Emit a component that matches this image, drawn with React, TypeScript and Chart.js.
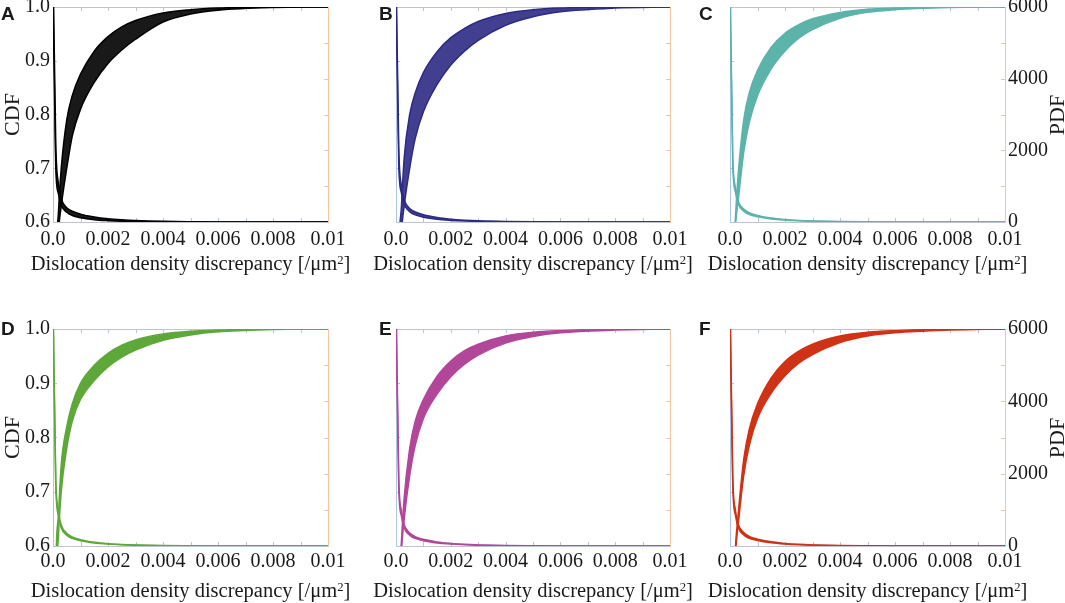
import React, { useEffect, useRef } from "react";
import Chart from "chart.js/auto";

Chart.defaults.font.family = "'Liberation Serif', 'Times New Roman', serif";
Chart.defaults.color = "#1a1a1a";

// shared x positions (dislocation density discrepancy, /um^2)
const xs = [0, 0.0001, 0.0002, 0.0003, 0.0005, 0.0007, 0.001, 0.0015, 0.002, 0.0025, 0.003, 0.004, 0.005, 0.006, 0.008, 0.01];

// CDF envelopes (fast = upper edge of the band, slow = lower edge)
const cdfFastA = [0, 0.5, 0.62, 0.7, 0.79, 0.835, 0.875, 0.918, 0.945, 0.963, 0.975, 0.989, 0.995, 0.998, 1, 1];
const cdfSlowA = [0, 0.45, 0.58, 0.63, 0.7, 0.76, 0.81, 0.86, 0.895, 0.92, 0.94, 0.972, 0.987, 0.994, 0.999, 1];
const cdfFastB = [0, 0.52, 0.63, 0.72, 0.8, 0.84, 0.878, 0.917, 0.943, 0.96, 0.973, 0.988, 0.995, 0.998, 1, 1];
const cdfSlowB = [0, 0.45, 0.58, 0.63, 0.7, 0.755, 0.805, 0.856, 0.892, 0.918, 0.938, 0.966, 0.982, 0.991, 0.998, 1];
const cdfFastC = [0, 0.5, 0.61, 0.69, 0.79, 0.84, 0.882, 0.925, 0.951, 0.967, 0.978, 0.99, 0.996, 0.998, 1, 1];
const cdfSlowC = [0, 0.45, 0.59, 0.64, 0.73, 0.785, 0.835, 0.885, 0.918, 0.942, 0.958, 0.979, 0.99, 0.995, 0.999, 1];
const cdfFastD = [0, 0.55, 0.66, 0.75, 0.82, 0.862, 0.9, 0.933, 0.955, 0.97, 0.98, 0.991, 0.996, 0.998, 1, 1];
const cdfSlowD = [0, 0.5, 0.62, 0.7, 0.78, 0.83, 0.87, 0.905, 0.93, 0.948, 0.961, 0.979, 0.989, 0.995, 0.999, 1];
const cdfFastE = [0, 0.5, 0.61, 0.69, 0.78, 0.83, 0.87, 0.913, 0.941, 0.96, 0.972, 0.987, 0.994, 0.997, 1, 1];
const cdfSlowE = [0, 0.45, 0.59, 0.65, 0.73, 0.785, 0.835, 0.88, 0.912, 0.935, 0.952, 0.974, 0.986, 0.993, 0.998, 1];
const cdfFastF = [0, 0.49, 0.6, 0.66, 0.76, 0.815, 0.862, 0.91, 0.94, 0.959, 0.972, 0.987, 0.994, 0.997, 1, 1];
const cdfSlowF = [0, 0.45, 0.585, 0.64, 0.73, 0.785, 0.835, 0.882, 0.914, 0.937, 0.953, 0.975, 0.987, 0.993, 0.998, 1];

// PDF envelopes
const pdfHighA = [7200, 2200, 1050, 650, 400, 300, 220, 140, 90, 60, 40, 18, 8, 3, 1, 0];
const pdfLowA = [6500, 1500, 780, 470, 270, 180, 120, 65, 38, 22, 14, 5, 2, 1, 0, 0];
const pdfHighB = [7200, 2100, 1000, 620, 380, 280, 200, 125, 80, 52, 34, 15, 6, 2, 1, 0];
const pdfLowB = [6500, 1600, 800, 490, 290, 200, 135, 75, 45, 27, 17, 6, 2, 1, 0, 0];
const pdfHighC = [7000, 1900, 950, 580, 360, 260, 185, 110, 70, 45, 30, 12, 5, 2, 1, 0];
const pdfLowC = [6600, 1600, 820, 500, 300, 210, 145, 85, 52, 32, 20, 8, 3, 1, 0, 0];
const pdfHighD = [7000, 1900, 950, 580, 350, 250, 175, 105, 65, 42, 28, 11, 5, 2, 1, 0];
const pdfLowD = [6600, 1650, 830, 500, 300, 210, 145, 85, 52, 32, 20, 8, 3, 1, 0, 0];
const pdfHighE = [7000, 1900, 960, 590, 360, 260, 185, 112, 72, 46, 30, 12, 5, 2, 1, 0];
const pdfLowE = [6600, 1600, 820, 500, 300, 210, 145, 85, 52, 32, 20, 8, 3, 1, 0, 0];
const pdfHighF = [7000, 1950, 980, 600, 370, 265, 190, 115, 72, 46, 30, 12, 5, 2, 1, 0];
const pdfLowF = [6600, 1650, 840, 510, 305, 215, 150, 88, 54, 33, 21, 8, 3, 1, 0, 0];

const xTitle = "Dislocation density discrepancy [/\u03bcm";

const LEFT_AXIS = "#a9c6e6";
const RIGHT_AXIS = "#f3c3a6";
const FRAME = "#bfc3cf";
const TICK_SIZE = 20;
const TITLE_SIZE = 20.5;
const SIDE_TITLE_SIZE = 22;

const COLS = [
  { left: 0, width: 365, yw: 53, y1w: 37, mid: 190.5 },
  { left: 365, width: 335, yw: 31, y1w: 30, mid: 533 },
  { left: 700, width: 365, yw: 30, y1w: 60, mid: 867.5 },
];
const ROWS = [
  { top: 0, height: 300, padTop: 7, padBottom: 24, xh: 54, tickPad: 6, titleY: 263 },
  { top: 300, height: 303, padTop: 29, padBottom: 0, xh: 57, tickPad: 4, titleY: 590 },
];

type PanelDef = {
  letter: string;
  color: string;
  fill: string;
  col: number;
  row: number;
  cdfFast: number[];
  cdfSlow: number[];
  pdfHigh: number[];
  pdfLow: number[];
};

const panels: PanelDef[] = [
  { letter: "A", color: "#000000", fill: "rgba(0,0,0,0.9)", col: 0, row: 0, cdfFast: cdfFastA, cdfSlow: cdfSlowA, pdfHigh: pdfHighA, pdfLow: pdfLowA },
  { letter: "B", color: "#2d2a84", fill: "rgba(45,42,132,0.9)", col: 1, row: 0, cdfFast: cdfFastB, cdfSlow: cdfSlowB, pdfHigh: pdfHighB, pdfLow: pdfLowB },
  { letter: "C", color: "#5cb3aa", fill: "#5cb3aa", col: 2, row: 0, cdfFast: cdfFastC, cdfSlow: cdfSlowC, pdfHigh: pdfHighC, pdfLow: pdfLowC },
  { letter: "D", color: "#5ea83a", fill: "#5ea83a", col: 0, row: 1, cdfFast: cdfFastD, cdfSlow: cdfSlowD, pdfHigh: pdfHighD, pdfLow: pdfLowD },
  { letter: "E", color: "#b2479a", fill: "#b2479a", col: 1, row: 1, cdfFast: cdfFastE, cdfSlow: cdfSlowE, pdfHigh: pdfHighE, pdfLow: pdfLowE },
  { letter: "F", color: "#cf3215", fill: "#cf3215", col: 2, row: 1, cdfFast: cdfFastF, cdfSlow: cdfSlowF, pdfHigh: pdfHighF, pdfLow: pdfLowF },
];

const LETTER_X = [1, 379, 699];
const LETTER_Y = [4, 319];

// frame on top and the small inward tick marks
const innerTicks = {
  id: "innerTicks",
  beforeDatasetsDraw(chart: any) {
    const { ctx, chartArea: a, scales } = chart;
    const len = 4;
    ctx.save();
    ctx.lineWidth = 1;
    ctx.strokeStyle = FRAME;
    ctx.beginPath();
    ctx.moveTo(a.left, a.top + 0.5);
    ctx.lineTo(a.right, a.top + 0.5);
    for (const t of scales.x.ticks) {
      const px = Math.round(scales.x.getPixelForValue(t.value)) + 0.5;
      if (px <= a.left + 1 || px >= a.right - 1) continue;
      ctx.moveTo(px, a.bottom);
      ctx.lineTo(px, a.bottom - len);
      ctx.moveTo(px, a.top);
      ctx.lineTo(px, a.top + len);
    }
    ctx.stroke();
    ctx.strokeStyle = LEFT_AXIS;
    ctx.beginPath();
    for (const t of scales.y.ticks) {
      const py = Math.round(scales.y.getPixelForValue(t.value)) + 0.5;
      if (py <= a.top + 1 || py >= a.bottom - 1) continue;
      ctx.moveTo(a.left, py);
      ctx.lineTo(a.left + len, py);
    }
    ctx.stroke();
    ctx.strokeStyle = RIGHT_AXIS;
    ctx.beginPath();
    for (const t of scales.y1.ticks) {
      const py = Math.round(scales.y1.getPixelForValue(t.value)) + 0.5;
      if (py <= a.top + 1 || py >= a.bottom - 1) continue;
      ctx.moveTo(a.right, py);
      ctx.lineTo(a.right - len, py);
    }
    ctx.stroke();
    ctx.restore();
  },
};

const toPoints = (vals: number[]) => xs.map((x, i) => ({ x, y: vals[i] }));

function Panel({ p }: { p: PanelDef }) {
  const canvasRef = useRef<HTMLCanvasElement | null>(null);
  const col = COLS[p.col];
  const row = ROWS[p.row];

  useEffect(() => {
    if (!canvasRef.current) return;
    const showLeft = p.col === 0;
    const showRight = p.col === 2;
    const line = {
      borderColor: p.color,
      borderWidth: 1.5,
      pointRadius: 0,
      cubicInterpolationMode: "monotone" as const,
    };
    const chart = new Chart(canvasRef.current, {
      type: "line",
      data: {
        datasets: [
          { ...line, data: toPoints(p.cdfSlow), yAxisID: "y", fill: false },
          { ...line, data: toPoints(p.cdfFast), yAxisID: "y", fill: "-1", backgroundColor: p.fill },
          { ...line, data: toPoints(p.pdfLow), yAxisID: "y1", fill: false },
          { ...line, data: toPoints(p.pdfHigh), yAxisID: "y1", fill: "-1", backgroundColor: p.fill },
        ],
      },
      options: {
        animation: false,
        responsive: true,
        maintainAspectRatio: false,
        layout: { padding: { top: row.padTop, bottom: row.padBottom, left: 0, right: 0 } },
        plugins: { legend: { display: false }, tooltip: { enabled: false } },
        scales: {
          x: {
            type: "linear",
            min: 0,
            max: 0.01,
            grid: { display: false, drawTicks: false },
            border: { display: true, color: FRAME, width: 1 },
            ticks: {
              stepSize: 0.001,
              autoSkip: false,
              maxRotation: 0,
              padding: row.tickPad,
              font: { size: TICK_SIZE },
              color: "#1a1a1a",
              callback: (v: any) => {
                const r = Math.round(Number(v) * 1000);
                if (r % 2 !== 0) return "";
                if (r === 0) return "0.0";
                if (r === 10) return "0.01";
                return "0.00" + r;
              },
            },
            afterFit: (s: any) => {
              s.height = row.xh;
              s.paddingLeft = 0;
              s.paddingRight = 0;
            },
          },
          y: {
            position: "left",
            min: 0.6,
            max: 1.0,
            grid: { display: false, drawTicks: false },
            border: { display: true, color: LEFT_AXIS, width: 1 },
            ticks: {
              display: showLeft,
              stepSize: 0.1,
              padding: 3,
              font: { size: TICK_SIZE },
              color: "#1a1a1a",
              callback: (v: any) => Number(v).toFixed(1),
            },
            title: { display: showLeft, text: "CDF", font: { size: SIDE_TITLE_SIZE }, color: "#1a1a1a", padding: 0 },
            afterFit: (s: any) => {
              s.width = col.yw;
              s.paddingTop = 0;
              s.paddingBottom = 0;
            },
          },
          y1: {
            position: "right",
            min: 0,
            max: 6000,
            grid: { display: false, drawTicks: false },
            border: { display: true, color: RIGHT_AXIS, width: 1 },
            ticks: {
              display: showRight,
              stepSize: 1000,
              autoSkip: false,
              padding: 3,
              font: { size: TICK_SIZE },
              color: "#1a1a1a",
              callback: (v: any) => (Math.round(Number(v)) % 2000 === 0 ? String(Math.round(Number(v))) : ""),
            },
            afterFit: (s: any) => {
              s.width = col.y1w;
              s.paddingTop = 0;
              s.paddingBottom = 0;
            },
          },
        },
      },
      plugins: [innerTicks],
    });
    return () => {
      chart.destroy();
    };
  }, [p]);

  return (
    <div style={{ position: "absolute", left: col.left, top: row.top, width: col.width, height: row.height }}>
      <canvas ref={canvasRef} />
    </div>
  );
}

const serif = "'Liberation Serif', 'Times New Roman', serif";

const letterStyle: React.CSSProperties = {
  position: "absolute",
  fontFamily: "'Liberation Sans', Arial, sans-serif",
  fontWeight: "bold",
  fontSize: 19,
  lineHeight: "19px",
  color: "#1a1a1a",
};

const xTitleStyle: React.CSSProperties = {
  position: "absolute",
  fontFamily: serif,
  fontSize: TITLE_SIZE,
  lineHeight: "26px",
  color: "#1a1a1a",
  whiteSpace: "nowrap",
  transform: "translate(-50%, -50%)",
};

const pdfStyle: React.CSSProperties = {
  position: "absolute",
  fontFamily: serif,
  fontSize: SIDE_TITLE_SIZE,
  lineHeight: "24px",
  color: "#1a1a1a",
  width: 60,
  textAlign: "center",
  transform: "translate(-50%, -50%) rotate(-90deg)",
};

export default function App() {
  return (
    <div style={{ position: "fixed", left: 0, top: 0, width: 1065, height: 603, overflow: "hidden", background: "#fff" }}>
      {panels.map((p) => (
        <Panel key={p.letter} p={p} />
      ))}
      {panels.map((p) => (
        <div key={"l" + p.letter} style={{ ...letterStyle, left: LETTER_X[p.col], top: LETTER_Y[p.row] }}>
          {p.letter}
        </div>
      ))}
      {panels.map((p) => (
        <div key={"t" + p.letter} style={{ ...xTitleStyle, left: COLS[p.col].mid, top: ROWS[p.row].titleY }}>
          {xTitle}
          <sup style={{ fontSize: "0.62em", verticalAlign: "0.5em", lineHeight: 0 }}>2</sup>]
        </div>
      ))}
      <div style={{ ...pdfStyle, left: 1057, top: 115 }}>PDF</div>
      <div style={{ ...pdfStyle, left: 1057, top: 438 }}>PDF</div>
    </div>
  );
}
